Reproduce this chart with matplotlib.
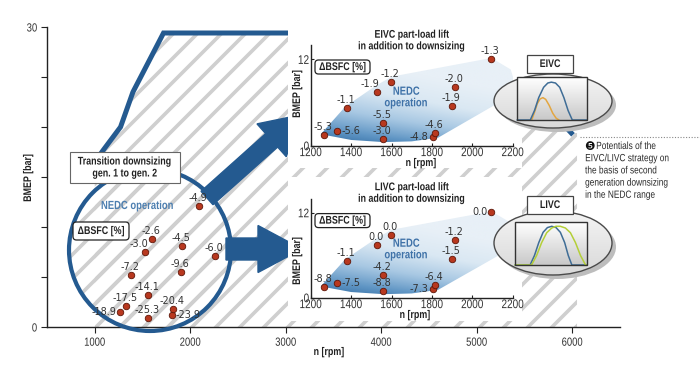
import numpy as np
import matplotlib.pyplot as plt
import matplotlib.transforms as mtransforms
from matplotlib.patches import Polygon, Circle, Ellipse, Rectangle, FancyArrow, FancyBboxPatch
from matplotlib.collections import LineCollection
from matplotlib.colors import LinearSegmentedColormap
from matplotlib.patheffects import AbstractPathEffect

# NEDC operating points (same points in all three plots)
speed = [1267, 1332, 1378, 1527, 1596, 1560, 1558, 1804, 1817, 1916, 1901, 2094]
bmep = [1.5, 2.1, 5.2, 7.5, 8.8, 3.2, 0.9, 1.25, 1.8, 8.1, 5.5, 12.1]

# delta BSFC [%] per point
dbsfc_down = [-18.9, -17.5, -7.2, -3.0, -2.6, -14.1, -25.3, -23.9, -20.4, -4.5, -9.6, -4.9]
dbsfc_eivc = [-5.3, -5.6, -1.1, -1.9, -1.2, -5.5, -3.0, -4.8, -4.6, -2.0, -1.9, -1.3]
dbsfc_livc = [-8.8, -7.5, -1.1, 0.0, 0.0, -4.2, -8.8, -7.3, -6.4, -1.2, -1.5, 0.0]

# one more point only shown in the downsizing circle
extra_speed = [2257]
extra_bmep = [7.1]
extra_dbsfc = [-6.0]

# full load curve, gen. 2
full_speed = [1000, 1090, 1270, 1400, 1720, 5000, 5990]
full_bmep = [16.5, 17.7, 20.0, 23.5, 29.4, 29.4, 19.4]
full_end_speed = 6050

# NEDC operation area
nedc_speed = [1250, 1370, 1520, 1600, 2095, 2190, 2225, 1830, 1700, 1560, 1400]
nedc_bmep = [1.6, 5.4, 8.3, 9.6, 12.2, 10.6, 7.5, 1.1, 0.6, 0.5, 0.8]

# valve lift sketches (normalised crank angle / lift)
eivc_blue_x = [0.0, 0.19, 0.25, 0.31, 0.38, 0.44, 0.49, 0.55, 0.61, 0.67, 0.73, 0.79, 1.0]
eivc_blue_y = [0.0, 0.0, 0.22, 0.52, 0.76, 0.86, 0.88, 0.86, 0.76, 0.52, 0.22, 0.0, 0.0]
eivc_orng_x = [0.21, 0.25, 0.29, 0.33, 0.37, 0.41, 0.46, 0.51, 0.56, 0.60]
eivc_orng_y = [0.0, 0.18, 0.38, 0.49, 0.52, 0.48, 0.34, 0.16, 0.04, 0.0]
livc_blue_x = [0.0, 0.21, 0.27, 0.33, 0.39, 0.45, 0.51, 0.57, 0.63, 0.69, 0.74, 0.79, 1.0]
livc_blue_y = [0.0, 0.0, 0.22, 0.52, 0.76, 0.87, 0.90, 0.87, 0.76, 0.52, 0.22, 0.0, 0.0]
livc_grn_x = [0.0, 0.23, 0.30, 0.37, 0.44, 0.51, 0.57, 0.63, 0.70, 0.77, 0.84, 0.91, 0.98, 1.0]
livc_grn_y = [0.0, 0.0, 0.22, 0.52, 0.75, 0.86, 0.90, 0.90, 0.86, 0.75, 0.52, 0.22, 0.0, 0.0]

# label placement: a = above, l = left, r = right, al = above left
place_down = ['l', 'a', 'a', 'al', 'a', 'a', 'a', 'r', 'a', 'a', 'a', 'a']
place_eivc = ['a', 'r', 'a', 'al', 'a', 'a', 'a', 'l', 'a', 'a', 'a', 'a']
place_livc = ['a', 'r', 'a', 'a', 'a', 'a', 'a', 'l', 'a', 'a', 'a', 'l']

caption = ['Potentials of the', 'EIVC/LIVC strategy on', 'the basis of second',
           'generation downsizing', 'in the NEDC range']

SANS = ['Liberation Sans', 'DejaVu Sans']
DARK = '#333333'
INK = '#222222'
BLUE = '#245a90'
PT_FC, PT_EC = '#b8381f', '#5e1608'


class Narrow(AbstractPathEffect):
    """squeeze text lines to mimic the condensed font of the original"""

    def __init__(self, sx=0.8, anchor='center', vertical=False):
        super().__init__()
        self.sx, self.anchor, self.vertical = sx, anchor, vertical

    def draw_path(self, renderer, gc, tpath, affine, rgbFace=None):
        ext = tpath.transformed(affine).get_extents()
        if self.vertical:
            c = ext.y0 + ext.height / 2
            sc = mtransforms.Affine2D().translate(0, -c).scale(1, self.sx).translate(0, c)
        else:
            c = {'center': ext.x0 + ext.width / 2, 'left': ext.x0, 'right': ext.x1}[self.anchor]
            sc = mtransforms.Affine2D().translate(-c, 0).scale(self.sx, 1).translate(c, 0)
        renderer.draw_path(gc, tpath, affine + sc, rgbFace)


NC = [Narrow(0.8)]

W, H = 700, 371
fig = plt.figure(figsize=(7, 3.71), dpi=100)
fig.patch.set_facecolor('white')
# image pixels (y down) -> display
PX = mtransforms.Affine2D().scale(0.01, -0.01).translate(0, 3.71) + fig.dpi_scale_trans


def rect(l, t, r, b):
    return [l / W, 1 - b / H, (r - l) / W, (b - t) / H]


def ntext(axx, x, y, s, size=8, bold=True, color=INK, ha='center', rot=0, pe=None, **kw):
    return axx.text(x, y, s, transform=PX, ha=ha, va='center', fontsize=size,
                    fontweight='bold' if bold else 'normal', family=SANS, color=color,
                    rotation=rot, path_effects=pe or NC, **kw)


def labels(axx, xs, ys, vals, places, size=7):
    off = {'a': ((-1, 8), 'center'), 'l': ((-4, 0), 'right'),
           'r': ((4, 0), 'left'), 'al': ((3, 8), 'right')}
    for x, y, v, p in zip(xs, ys, vals, places):
        (dx, dy), ha = off[p]
        axx.annotate(f'{v:.1f}', (x, y), xytext=(dx, dy), textcoords='offset pixels',
                     ha=ha, va='center', fontsize=size, color=DARK, zorder=6,
                     annotation_clip=False)


def stripes(axx, clip):
    segs = [[(x0, 371), (x0 + 371, 0)] for x0 in range(-380, 710, 24)]
    lc = LineCollection(segs, colors='#cfcfcf', linewidths=2.6, transform=PX, zorder=0.5)
    axx.add_collection(lc, autolim=False)
    lc.set_clip_path(clip)


def rbox(axx, l, t, r, b, z=4):
    axx.add_patch(FancyBboxPatch((l, t), r - l, b - t, boxstyle='round,pad=0,rounding_size=3.5',
                                 transform=PX, fc='white', ec=INK, lw=0.9, clip_on=False,
                                 zorder=z))


def style_ticks(axx, size, pad, length, direction):
    axx.tick_params(direction=direction, length=length, width=0.8, color=INK,
                    labelsize=size, labelcolor=DARK, pad=pad)
    for t in axx.get_xticklabels():
        t.set_family(SANS)
        t.set_path_effects(NC)
    for t in axx.get_yticklabels():
        t.set_family(SANS)
        t.set_path_effects([Narrow(0.8, 'right')])


# ---------------- main chart ----------------
ax = fig.add_axes(rect(47, 27, 620, 327))
ax.set_xlim(500, 6500)
ax.set_ylim(0, 30)
ax.spines[['top', 'right']].set_visible(False)
for s in ['left', 'bottom']:
    ax.spines[s].set_color(INK)
    ax.spines[s].set_linewidth(1.0)
ax.set_xticks([1000, 2000, 3000, 4000, 5000, 6000])
ax.set_yticks([0, 5, 10, 15, 20, 25, 30])
ax.set_yticklabels(['0', '', '', '', '', '', '30'])
style_ticks(ax, 8.5, 3, 4, 'out')

hatch_n = [full_speed[0]] + full_speed + [full_end_speed, full_end_speed]
hatch_b = [0] + full_bmep + [full_bmep[-1], 0]
full_region = Polygon(list(zip(hatch_n, hatch_b)), closed=True, transform=ax.transData)
stripes(ax, full_region)
stripes(ax, Circle((150, 250), 81, transform=PX))

ax.plot(full_speed, full_bmep, color=BLUE, lw=3.6, solid_joinstyle='miter', zorder=2,
        clip_on=False)

ax.add_patch(Circle((150, 250), 81, transform=PX, fill=False, ec=BLUE, lw=3.0,
                    clip_on=False, zorder=3))
ax.add_patch(FancyArrow(207, 198, 93, -83, width=18, head_width=44, head_length=38,
                        length_includes_head=True, transform=PX, color=BLUE,
                        clip_on=False, zorder=3))
ax.add_patch(FancyArrow(226, 249, 76, 0, width=22, head_width=47, head_length=44,
                        length_includes_head=True, transform=PX, color=BLUE,
                        clip_on=False, zorder=3))

ax.scatter(speed + extra_speed, bmep + extra_bmep, s=22, c=PT_FC, edgecolors=PT_EC,
           linewidths=0.6, zorder=5, clip_on=False)
labels(ax, speed + extra_speed, bmep + extra_bmep, dbsfc_down + extra_dbsfc,
       place_down + ['a'])

ax.add_patch(Rectangle((70, 152), 110, 31, transform=PX, fc='white', ec='#666666',
                       lw=0.8, clip_on=False, zorder=4))
ntext(ax, 125, 167.5, 'Transition downsizing\ngen. 1 to gen. 2', linespacing=1.25, zorder=5)
ntext(ax, 137, 206, 'NEDC operation', size=8.5, color='#4d7fb0', zorder=5)
rbox(ax, 73, 222, 129, 240)
ntext(ax, 101, 231, '\u0394BSFC [%]', zorder=5)
ntext(ax, 28, 178, 'BMEP [bar]', rot=90, pe=[Narrow(0.8, vertical=True)])
ntext(ax, 329, 352, 'n [rpm]')

# ---------------- part-load panels ----------------
nedc_cmap = LinearSegmentedColormap.from_list(
    'nedc', ['#2a659d', '#5f95c4', '#a8c8e3', '#dae8f3', '#e8f0f7'])


def panel(box, bg, title, title_y, vals, places, nedc_y, xl_pos, yl_y):
    axp = fig.add_axes(rect(*box))
    axp.add_patch(Rectangle((bg[0], bg[1]), bg[2] - bg[0], bg[3] - bg[1], transform=PX,
                            fc='white', ec='none', clip_on=False, zorder=0))
    axp.spines[['top', 'right']].set_visible(False)
    for s in ['left', 'bottom']:
        axp.spines[s].set_color(INK)
        axp.spines[s].set_linewidth(1.0)

    gn, gb = np.meshgrid(np.linspace(1200, 2260, 160), np.linspace(0, 13, 160))
    shade = np.clip((gb / 12.5) ** 0.8 + (gn - 1300) / 2600, 0, 1)
    img = axp.imshow(shade, extent=[1200, 2260, 0, 13], origin='lower', aspect='auto',
                     cmap=nedc_cmap, vmin=0, vmax=1, zorder=1, interpolation='bilinear')
    img.set_clip_path(Polygon(list(zip(nedc_speed, nedc_bmep)), closed=True,
                              transform=axp.transData))
    axp.set_xlim(1200, 2200)
    axp.set_ylim(0, 14)
    axp.set_xticks([1200, 1400, 1600, 1800, 2000, 2200])
    axp.set_yticks([0, 12])
    style_ticks(axp, 9, 1, 2, 'in')

    axp.scatter(speed, bmep, s=22, c=PT_FC, edgecolors=PT_EC, linewidths=0.6, zorder=5,
                clip_on=False)
    labels(axp, speed, bmep, vals, places)

    ntext(axp, 412, title_y, title, linespacing=1.2)
    ntext(axp, 406, nedc_y, 'NEDC\noperation', size=8.5, color='#3f72a8',
          linespacing=0.95, zorder=4)
    rbox(axp, 315, box[1] + 15, 370, box[1] + 29)
    ntext(axp, 342.5, box[1] + 22, '\u0394BSFC [%]', zorder=5)
    ntext(axp, xl_pos[0], xl_pos[1], 'n [rpm]')
    ntext(axp, 297, yl_y, 'BMEP [bar]', rot=90, pe=[Narrow(0.8, vertical=True)])
    return axp


panel((310.7, 45, 512.7, 145.7), (288, 0, 522, 168),
      'EIVC part-load lift\nin addition to downsizing', 40.5,
      dbsfc_eivc, place_eivc, 97.5, (421, 163), 94)
panel((310.7, 198.6, 512.7, 297.7), (288, 177, 522, 321),
      'LIVC part-load lift\nin addition to downsizing', 193,
      dbsfc_livc, place_livc, 249.5, (415, 315), 261)

# ---------------- valve lift insets and caption ----------------
ov = fig.add_axes([0, 0, 1, 1])
ov.axis('off')
ov.patch.set_alpha(0)

lift_cmap = LinearSegmentedColormap.from_list('lift', ['#ffffff', '#c9c9c9'])
oval_cmap = LinearSegmentedColormap.from_list('oval', ['#f4f4f4', '#d9d9d9'])


def inset(cy, h, box_y, inner, name, curves):
    ov.add_patch(Ellipse((557, cy + 4), 118, h, fc='#bdbdbd', ec='none', zorder=1))
    oval = Ellipse((553, cy), 118, h, fc='none', ec='#4a4a4a', lw=1.0, zorder=2.5)
    ov.add_patch(oval)
    ofill = ov.imshow(np.linspace(0, 1, 40)[:, None], extent=[494, 612, cy + h / 2, cy - h / 2],
                      origin='upper', aspect='auto', cmap=oval_cmap, zorder=2)
    ofill.set_clip_path(oval)
    l, t, r, b = inner
    ov.imshow(np.linspace(0, 1, 40)[:, None], extent=[l, r, b, t], origin='upper',
              aspect='auto', cmap=lift_cmap, zorder=3)
    ov.add_patch(Rectangle((l, t), r - l, b - t, fill=False, ec='#333333', lw=1.0, zorder=5))
    for xs, ys, col in curves:
        ov.plot(l + np.array(xs) * (r - l), b - np.array(ys) * (b - t), color=col, lw=1.1,
                zorder=4, solid_capstyle='round')
    ov.add_patch(Rectangle((527, box_y), 46, 18, fc='white', ec='#444444', lw=0.9, zorder=6))
    ntext(ov, 550, box_y + 9, name, zorder=7)


inset(101, 54, 55, (517, 77, 587, 120), 'EIVC',
      [(eivc_orng_x, eivc_orng_y, '#e3a641'), (eivc_blue_x, eivc_blue_y, '#3f6d96')])
inset(243, 64, 196, (515, 222, 587, 265), 'LIVC',
      [(livc_blue_x, livc_blue_y, '#3f6d96'), (livc_grn_x, livc_grn_y, '#b4cf38')])
ov.set_xlim(0, W)
ov.set_ylim(H, 0)

ov.plot([580, 700], [137, 137], ls=(0, (1, 1.5)), color='#888888', lw=0.8)
ov.text(589.5, 146, '\u277a', ha='center', va='center', fontsize=8.5, family='DejaVu Sans',
        color='#111111')
for i, line in enumerate(caption):
    ntext(ov, 596 if i == 0 else 585, 146 + i * 12.2, line, size=7.5, bold=False,
          color='#2a2a2a', ha='left', pe=[Narrow(0.8, 'left')])

fig.savefig('out.png', dpi=100, facecolor='white')
